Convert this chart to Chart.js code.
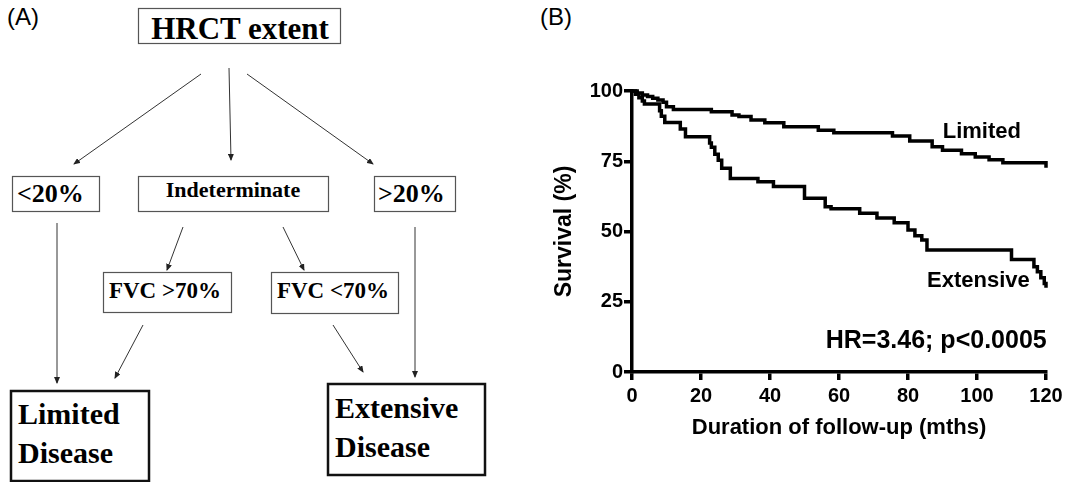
<!DOCTYPE html>
<html>
<head>
<meta charset="utf-8">
<title>HRCT extent and survival</title>
<script src="https://cdn.jsdelivr.net/npm/chart.js@4"></script>
<style>
  html, body { margin: 0; padding: 0; background: #fff; }
  #page { position: relative; width: 1073px; height: 482px; overflow: hidden; }
  #flow { position: absolute; left: 0; top: 0; }
  #flow text { font-family: "Liberation Serif", "Times New Roman", serif; font-weight: bold; fill: #000; }
  .panel { position: absolute; top: 3px; font: 24px "Liberation Sans", Arial, sans-serif; color: #000; }
  #chart-box { position: absolute; left: 540px; top: 0; width: 533px; height: 482px; }
</style>
</head>
<body>
<div id="page">
  <svg id="flow" width="540" height="482" xmlns="http://www.w3.org/2000/svg">
    <defs>
      <marker id="head" markerWidth="7" markerHeight="6" refX="6" refY="3" orient="auto" markerUnits="userSpaceOnUse">
        <path d="M0,0 L7,3 L0,6 z" fill="#222"/>
      </marker>
    </defs>
    <!-- boxes -->
    <g fill="none" stroke="#555" stroke-width="1.2">
      <rect x="138.5" y="8.5" width="202" height="35"/>
      <rect x="12.5" y="176.5" width="87" height="35"/>
      <rect x="138.5" y="176.5" width="190" height="35"/>
      <rect x="374.5" y="176.5" width="81" height="35"/>
      <rect x="103.5" y="272.5" width="128" height="40"/>
      <rect x="271.5" y="272.5" width="127" height="41"/>
    </g>
    <g fill="none" stroke="#111" stroke-width="2.5">
      <rect x="11" y="391" width="138" height="90"/>
      <rect x="328" y="384" width="157" height="91"/>
    </g>
    <!-- arrows -->
    <g stroke="#333" stroke-width="1" marker-end="url(#head)">
      <line x1="201" y1="74" x2="74" y2="164"/>
      <line x1="229" y1="68" x2="231" y2="160"/>
      <line x1="247" y1="74" x2="373" y2="164"/>
      <line x1="57" y1="223" x2="57" y2="383"/>
      <line x1="183" y1="227" x2="167" y2="270"/>
      <line x1="283" y1="227" x2="304" y2="270"/>
      <line x1="415" y1="227" x2="415" y2="377"/>
      <line x1="143" y1="325" x2="115" y2="378"/>
      <line x1="333" y1="325" x2="363" y2="372"/>
    </g>
    <!-- labels -->
    <text x="240" y="39" font-size="31" text-anchor="middle">HRCT extent</text>
    <text x="17" y="202" font-size="26">&lt;20%</text>
    <text x="233" y="197" font-size="22" text-anchor="middle">Indeterminate</text>
    <text x="378" y="202" font-size="26">&gt;20%</text>
    <text x="165" y="298" font-size="23" text-anchor="middle">FVC &gt;70%</text>
    <text x="333" y="298" font-size="23" text-anchor="middle">FVC &lt;70%</text>
    <text x="18" y="424" font-size="30">Limited</text>
    <text x="18" y="463" font-size="30">Disease</text>
    <text x="335" y="418" font-size="30">Extensive</text>
    <text x="335" y="457" font-size="30">Disease</text>
  </svg>
  <div class="panel" style="left:7px">(A)</div>
  <div class="panel" style="left:540px">(B)</div>
  <div id="chart-box"><canvas id="chart-km"></canvas></div>
</div>

<script>
// Kaplan-Meier survival (months, % surviving)
const limitedMonths = [0, 1.5, 3, 4.5, 6, 7.5, 9, 10, 12, 23, 29, 31, 34.5, 38.5, 44, 54, 58.5, 75.5, 80.5, 87, 90, 95.5, 99.5, 103.5, 107.5, 120];
const limitedSurvival = [100, 99.3, 98.6, 98, 97.4, 96.8, 96, 94.4, 93.4, 92.6, 91.5, 90.9, 89.7, 88.7, 87.3, 86, 85.1, 84, 82.2, 80.2, 78.9, 77.7, 76.5, 75.5, 74.5, 72.7];

const extensiveMonths = [0, 1, 2, 3, 3.6, 8, 8.5, 9.5, 14, 15.5, 22.5, 23, 24, 25, 26, 28.5, 36.5, 41, 50, 56, 57.7, 66, 71, 76, 80, 82, 84, 85.5, 110, 116.5, 117.5, 118.5, 119.5, 120];
const extensiveSurvival = [100, 98.8, 97.6, 96.4, 95.4, 93, 91, 88.8, 86.5, 83.7, 81.5, 80, 77.5, 75.4, 72.5, 68.9, 67.7, 66, 61.8, 58.8, 58.1, 56.5, 54.8, 53.1, 50.5, 48.5, 47, 43.4, 40, 37.5, 35.7, 33.5, 31.5, 30];

const xTicks = [0, 20, 40, 60, 80, 100, 120];
const yTicks = [0, 25, 50, 75, 100];

// text placed on the plot, anchored in data units
const curveLabels = [
  { text: 'Limited', x: 101.4, y: 83.3, size: 22, align: 'center' },
  { text: 'Extensive', x: 100.4, y: 30.2, size: 22, align: 'center' },
  { text: 'HR=3.46; p<0.0005', x: 120.2, y: 8.5, size: 25, align: 'right' }
];

const toPoints = (xs, ys) => xs.map((x, i) => ({ x: x, y: ys[i] }));

const FONT = "'Liberation Sans', Arial, sans-serif";
Chart.defaults.font.family = FONT;
Chart.defaults.color = '#000';

const curveLabelPlugin = {
  id: 'curveLabels',
  afterDatasetsDraw(chart) {
    const { ctx, scales } = chart;
    ctx.save();
    ctx.fillStyle = '#000';
    ctx.textBaseline = 'alphabetic';
    curveLabels.forEach(l => {
      ctx.font = `bold ${l.size}px ${FONT}`;
      ctx.textAlign = l.align;
      ctx.fillText(l.text, scales.x.getPixelForValue(l.x), scales.y.getPixelForValue(l.y));
    });
    ctx.restore();
  }
};

const lineStyle = {
  borderColor: '#000',
  borderWidth: 3.5,
  pointRadius: 0,
  stepped: true,
  fill: false,
  clip: false
};

const axisGrid = {
  drawOnChartArea: false,
  color: '#000',
  lineWidth: 3.5,
  tickLength: 8
};

new Chart(document.getElementById('chart-km'), {
  type: 'line',
  data: {
    datasets: [
      Object.assign({ label: 'Limited', data: toPoints(limitedMonths, limitedSurvival) }, lineStyle),
      Object.assign({ label: 'Extensive', data: toPoints(extensiveMonths, extensiveSurvival) }, lineStyle)
    ]
  },
  options: {
    responsive: true,
    maintainAspectRatio: false,
    animation: false,
    layout: { padding: { top: 91, right: 27, bottom: 0, left: 0 } },
    plugins: {
      legend: { display: false },
      tooltip: { enabled: false }
    },
    scales: {
      x: {
        type: 'linear',
        min: 0,
        max: 120,
        afterBuildTicks: s => { s.ticks = xTicks.map(v => ({ value: v })); },
        afterFit: s => { s.height = 110; },
        ticks: { font: { size: 20, weight: 'bold' }, padding: 4, maxRotation: 0 },
        grid: axisGrid,
        border: { color: '#000', width: 3.5 },
        title: {
          display: true,
          text: 'Duration of follow-up (mths)',
          font: { size: 22, weight: 'bold' },
          padding: { top: 0, bottom: 41 }
        }
      },
      y: {
        min: 0,
        max: 100,
        afterBuildTicks: s => { s.ticks = yTicks.map(v => ({ value: v })); },
        afterFit: s => { s.width = 92; },
        ticks: { font: { size: 20, weight: 'bold' }, padding: 1 },
        grid: axisGrid,
        border: { color: '#000', width: 3.5 },
        title: {
          display: true,
          text: 'Survival (%)',
          font: { size: 23, weight: 'bold' },
          padding: { top: 11, bottom: 0 }
        }
      }
    }
  },
  plugins: [curveLabelPlugin]
});
</script>
</body>
</html>
